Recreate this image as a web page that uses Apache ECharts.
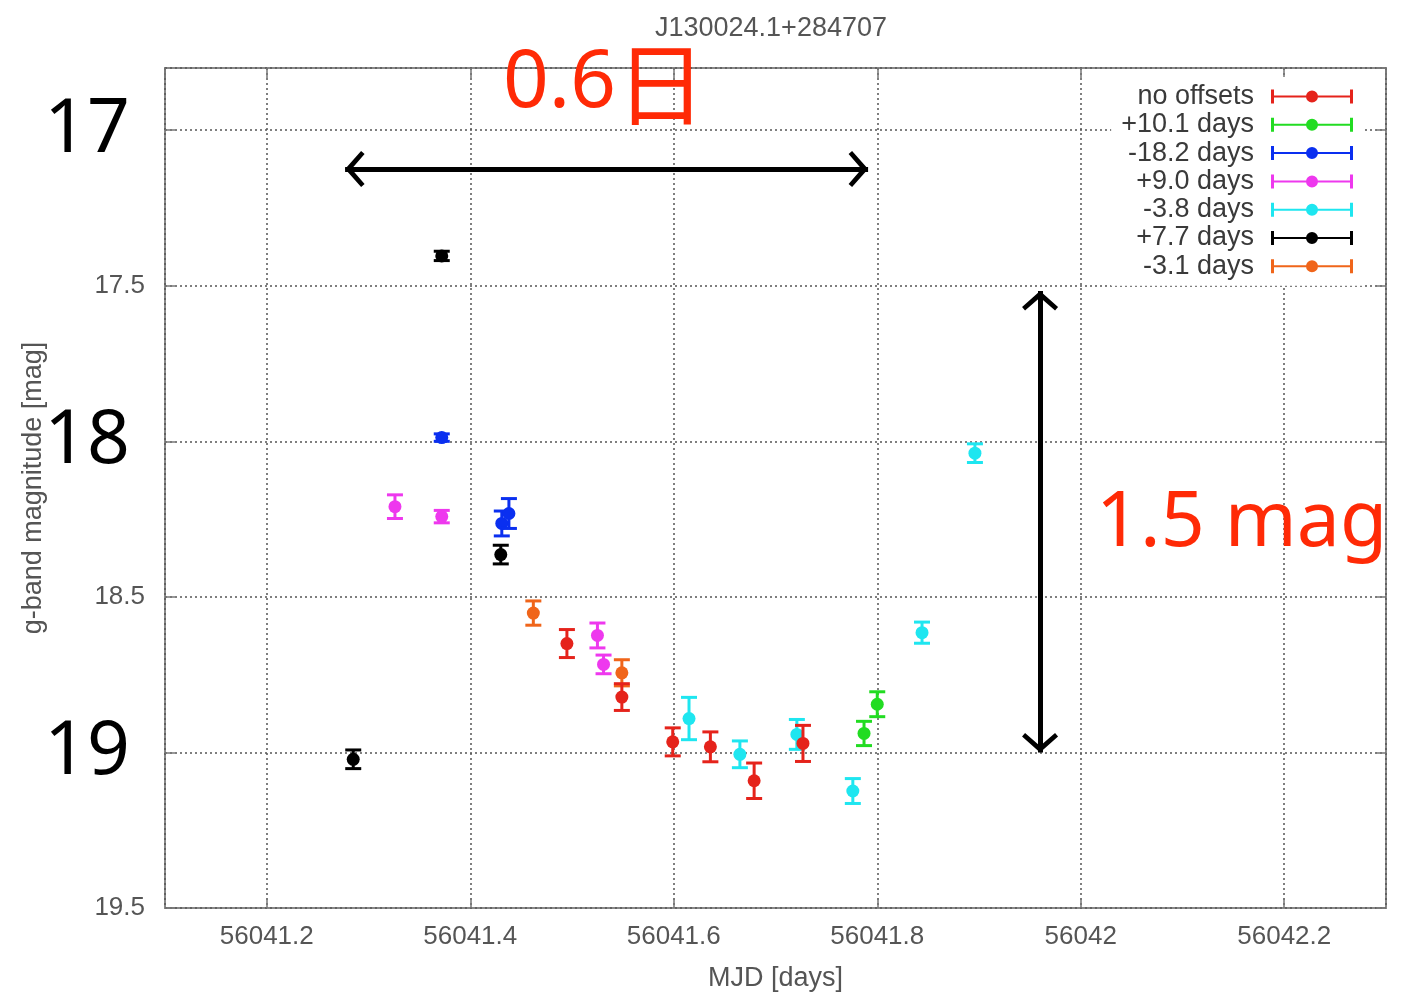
<!DOCTYPE html>
<html><head><meta charset="utf-8">
<script src="https://cdn.jsdelivr.net/npm/echarts@6/dist/echarts.min.js"></script>
<style>html,body{margin:0;padding:0;background:#fff}#c{width:1406px;height:997px}</style>
</head><body><div id="c"></div>
<script>
// ---- data: [MJD, g magnitude, error] ----
const seriesNames  = ['no offsets', '+10.1 days', '-18.2 days', '+9.0 days', '-3.8 days', '+7.7 days', '-3.1 days'];
const seriesColors = ['#e5231b', '#22dc22', '#0a2ff0', '#ee38ee', '#1ee6f0', '#000000', '#f0651a'];
const noOffsets = [[56041.495,18.650,0.045],[56041.549,18.822,0.043],[56041.599,18.966,0.045],[56041.636,18.982,0.048],[56041.679,19.091,0.057],[56041.727,18.971,0.058]];
const plus10_1  = [[56041.787,18.939,0.039],[56041.800,18.845,0.040]];
const minus18_2 = [[56041.372,17.988,0.012],[56041.431,18.264,0.040],[56041.438,18.232,0.048]];
const plus9_0   = [[56041.326,18.210,0.038],[56041.372,18.242,0.020],[56041.525,18.624,0.040],[56041.531,18.717,0.030]];
const minus3_8  = [[56041.615,18.891,0.068],[56041.665,19.006,0.043],[56041.721,18.942,0.048],[56041.776,19.124,0.040],[56041.844,18.615,0.034],[56041.896,18.038,0.030]];
const plus7_7   = [[56041.285,19.022,0.030],[56041.372,17.404,0.015],[56041.430,18.364,0.030]];
const minus3_1  = [[56041.462,18.552,0.039],[56041.549,18.744,0.042]];
const seriesData = [noOffsets, plus10_1, minus18_2, plus9_0, minus3_8, plus7_7, minus3_1];
// annotation arrows (data coords): [[x1,y1],[x2,y2]]
const arrowSpans = [[[56041.277,17.125],[56041.791,17.125]], [[56041.960,17.517],[56041.960,19.0]]];
const annotations = ['{d|0.6}{k|日}', '1.5 mag'];

const FONT = 'Liberation Sans';
const RED = '#ff2a06';
const errIcon = 'path://M0,8 L0.01,8 L0,8.01 Z M12,1 L15,1 L15,7 L91,7 L91,1 L94,1 L94,15 L91,15 L91,9 L15,9 L15,15 L12,15 Z M47,8 A6,6 0 1,1 59,8 A6,6 0 1,1 47,8 Z';
const arrowHead = 'path://M18,-19.5 L18.01,-19.5 L18,-19.49 Z M18,0 L36,16 L33,19.5 L18,6.5 L3,19.5 L0,16 Z';

function renderErr(params, api) {
  const x = api.value(0), y = api.value(1), e = api.value(2);
  const c = api.coord([x, y]);
  const t = api.coord([x, y - e]);
  const b = api.coord([x, y + e]);
  const color = api.visual('color');
  const hw = 8, lw = 3;
  const st = {stroke: color, lineWidth: lw};
  return {type: 'group', children: [
    {type: 'line', shape: {x1: c[0], y1: t[1], x2: c[0], y2: b[1]}, style: st},
    {type: 'line', shape: {x1: c[0]-hw, y1: t[1], x2: c[0]+hw, y2: t[1]}, style: st},
    {type: 'line', shape: {x1: c[0]-hw, y1: b[1], x2: c[0]+hw, y2: b[1]}, style: st},
    {type: 'circle', shape: {cx: c[0], cy: c[1], r: 6.5}, style: {fill: color}}
  ]};
}

const drawOrder = [1, 2, 3, 4, 5, 6, 0];
const series = drawOrder.map(i => ({
  type: 'custom', name: seriesNames[i], renderItem: renderErr,
  itemStyle: {color: seriesColors[i]},
  encode: {x: 0, y: 1}, data: seriesData[i], z: 3
}));
series.push({
  type: 'line', name: 'arrows', data: [], silent: true,
  markLine: {
    silent: true, animation: false,
    symbol: [arrowHead, arrowHead], symbolSize: [36, 39],
    label: {show: false}, emphasis: {disabled: true},
    lineStyle: {color: '#000', width: 5, type: 'solid'},
    data: arrowSpans.map(s => [{coord: s[0]}, {coord: s[1]}])
  }
});

const chart = echarts.init(document.getElementById('c'));
const tickStyle = {inside: true, length: 10, lineStyle: {color: '#777', width: 1.5}};
const gridLine = {lineStyle: {type: [2, 3], color: '#555', width: 1.5}};
chart.setOption({
  animation: false,
  backgroundColor: '#fff',
  color: seriesColors,
  title: {text: 'J130024.1+284707', left: 650, top: 10,
    textStyle: {fontSize: 27, color: '#555', fontWeight: 'normal', fontFamily: FONT}},
  grid: {left: 165, right: 20, top: 68, bottom: 89, show: true, borderColor: '#888', borderWidth: 2,
    containLabel: false, outerBoundsMode: 'none'},
  legend: {
    orient: 'vertical', right: 43, top: 77, align: 'right',
    itemWidth: 94, itemHeight: 16, itemGap: 1.3,
    backgroundColor: '#fff', padding: [6, 10, 6, 10], selectedMode: false,
    textStyle: {fontSize: 27, color: '#3a3a3a', fontFamily: FONT},
    data: seriesNames.map(n => ({name: n, icon: errIcon}))
  },
  xAxis: [{
    type: 'value', min: 56041.1, max: 56042.3, splitNumber: 6,
    axisLine: {show: false}, axisTick: tickStyle, splitLine: gridLine,
    axisLabel: {showMinLabel: false, showMaxLabel: false, fontSize: 26, color: '#555', fontFamily: FONT, margin: 16,
      formatter: v => String(Math.round(v * 10) / 10)},
    name: 'MJD [days]', nameLocation: 'middle', nameGap: 57,
    nameTextStyle: {fontSize: 27, color: '#555', fontFamily: FONT}
  }, {
    type: 'value', position: 'top', min: 56041.1, max: 56042.3, splitNumber: 6,
    axisLine: {show: false}, axisTick: tickStyle, axisLabel: {show: false}, splitLine: {show: false}
  }],
  yAxis: [{
    type: 'value', inverse: true, min: 16.8, max: 19.5, splitNumber: 5,
    axisLine: {show: false}, axisTick: tickStyle, splitLine: gridLine,
    axisLabel: {showMinLabel: false, showMaxLabel: true, fontSize: 26, color: '#555', fontFamily: FONT, margin: 20,
      formatter: v => { const r = Math.round(v * 10) / 10; return Number.isInteger(r) ? '{big|' + r + '}' : r.toFixed(1); },
      rich: {big: {fontSize: 75, color: '#000', fontFamily: 'Noto Sans', padding: [0, 15, 0, 0]}}},
    name: 'g-band magnitude [mag]', nameLocation: 'middle', nameGap: 118, nameRotate: 90, nameMoveOverlap: false,
    nameTextStyle: {fontSize: 27, color: '#555', fontFamily: FONT}
  }, {
    type: 'value', position: 'right', inverse: true, min: 16.8, max: 19.5, splitNumber: 5,
    axisLine: {show: false}, axisTick: tickStyle, axisLabel: {show: false}, splitLine: {show: false}
  }],
  graphic: [
    {type: 'text', x: 503, y: 84, z: 10, style: {text: annotations[0], fill: RED, align: 'left', verticalAlign: 'middle',
      rich: {d: {fontSize: 80, fill: RED, fontFamily: 'Noto Sans'}, k: {fontSize: 90, fill: RED, fontFamily: 'Noto Sans CJK JP'}}}},
    {type: 'text', x: 1096, y: 524, z: 10, style: {text: annotations[1], fontSize: 77, fill: RED, fontFamily: 'Noto Sans', align: 'left', verticalAlign: 'middle'}}
  ],
  series: series
});
</script></body></html>
